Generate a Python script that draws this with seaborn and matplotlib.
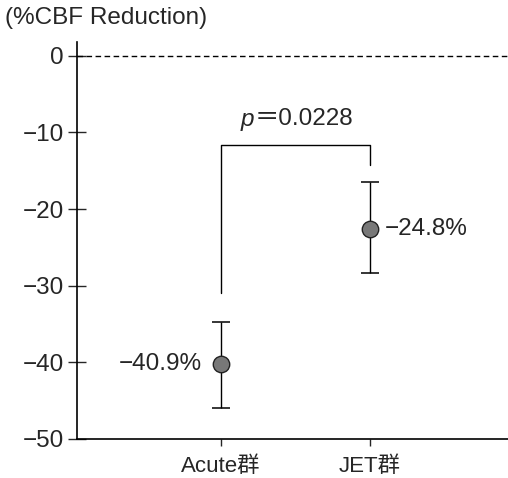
import matplotlib
matplotlib.use("Agg")
import matplotlib.pyplot as plt
import seaborn as sns
import pandas as pd

groups = ["Acute群", "JET群"]
means = [-40.2, -22.6]
err_low = [-46.0, -28.3]
err_high = [-34.7, -16.4]
value_labels = ["−40.9%", "−24.8%"]
p_symbol = "p"
p_value = "＝0.0228"
bracket_y = [-30.9, -11.6, -11.6, -14.2]
yticks = [0, -10, -20, -30, -40, -50]
ytick_labels = ["0", "−10", "−20", "−30", "−40", "−50"]
ylabel = "(%CBF Reduction)"

sns.set_style("white")
plt.rcParams['font.family'] = ['Liberation Sans', 'Noto Sans CJK JP']

df = pd.DataFrame({"group": groups, "mean": means})

fig = plt.figure(figsize=(5.08, 4.78), dpi=100)
ax = fig.add_axes([0.1516, 0.0816, 0.8484, 0.8304])

yerr = [[m - lo for m, lo in zip(means, err_low)],
        [hi - m for m, hi in zip(means, err_high)]]
ax.errorbar(groups, means, yerr=yerr, fmt="none", ecolor="black",
            elinewidth=1.0, capsize=6.5, capthick=1.1, zorder=2)
sns.scatterplot(data=df, x="group", y="mean", ax=ax, s=140, color="#787878",
                edgecolor="#222222", linewidth=1.0, zorder=3, legend=False)

ax.set_xlim(-0.966, 1.926)
ax.set_ylim(-50, 1.8)
ax.axhline(0, color="black", lw=1.0, ls=(0, (4, 2.5)), zorder=1)

# significance bracket
ax.plot([0, 0, 1, 1], bracket_y, color="black", lw=1.0)
ax.text(0.225, -8.3, p_symbol, ha="right", va="center", fontsize=17.5,
        fontstyle="italic", family=["Liberation Sans"])
ax.text(0.225, -8.3, p_value, ha="left", va="center", fontsize=17.5,
        family=["Liberation Sans", "Noto Sans CJK JP"])

ax.text(0 - 0.128, means[0], value_labels[0], ha="right", va="center", fontsize=17.5)
ax.text(1 + 0.1, means[1], value_labels[1], ha="left", va="center", fontsize=17.5)

ax.set_yticks(yticks)
ax.set_yticklabels(ytick_labels, fontsize=17.5)
ax.tick_params(axis="y", direction="inout", length=13, width=1.0, pad=3, left=True)
ax.tick_params(axis="x", direction="out", length=5, width=1.0, pad=7, labelsize=16, bottom=True)
ax.set_xlabel("")
ax.set_ylabel("")

for s in ["top", "right"]:
    ax.spines[s].set_visible(False)
for s in ["left", "bottom"]:
    ax.spines[s].set_color("black")
    ax.spines[s].set_linewidth(1.2)

fig.text(0.01, 0.962, ylabel, ha="left", va="center", fontsize=17.5)

fig.savefig("out.png", dpi=100)
